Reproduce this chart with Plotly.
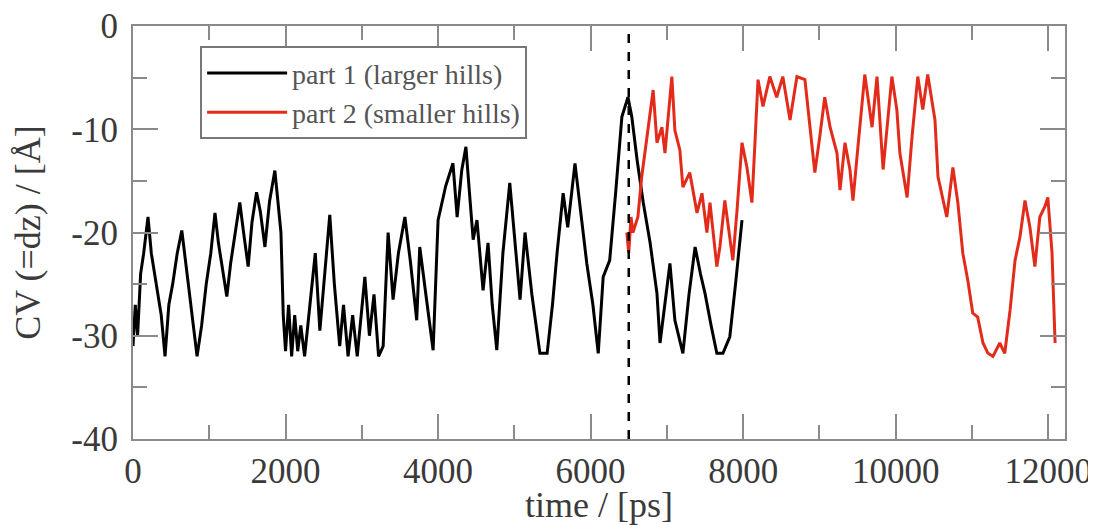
import plotly.graph_objects as go

# part 1 (larger hills): time [ps], CV [Å]
part1_t = [0, 30, 60, 100, 140, 197, 240, 280, 320, 370, 420, 470, 520, 580, 640, 690, 740, 790, 840,
           900, 960, 1020, 1075, 1120, 1180, 1230, 1280, 1340, 1400, 1450, 1510, 1560, 1620, 1670, 1730,
           1790, 1860, 1900, 1940, 1970, 2000, 2040, 2080, 2120, 2160, 2200, 2250, 2320, 2390, 2450, 2510,
           2580, 2640, 2710, 2760, 2820, 2880, 2940, 3040, 3100, 3160, 3220, 3280, 3345, 3410, 3480, 3565,
           3640, 3720, 3760, 3840, 3935, 4000, 4100, 4195, 4250, 4310, 4365, 4410, 4460, 4510, 4590, 4655,
           4710, 4770, 4850, 4940, 5010, 5075, 5140, 5230, 5335, 5430, 5500, 5560, 5640, 5700, 5795, 5870,
           5950, 6030, 6100, 6165, 6250, 6330, 6410, 6490, 6540, 6610, 6690, 6780, 6870, 6910, 6970, 7040,
           7105, 7210, 7290, 7370, 7440, 7500, 7580, 7655, 7735, 7825, 7900, 7985]
part1_cv = [-31, -27, -30, -24, -22, -18.5, -22, -24, -26, -28, -32, -27, -25, -22, -19.8, -23, -26, -29, -32,
            -29, -25, -22, -18.1, -21, -24, -26.2, -23, -20, -17.1, -20, -23.3, -19, -16.1, -18, -21.4,
            -17, -14, -17, -20, -28, -31.5, -27, -32, -28, -31.5, -29, -32, -27, -22, -29.5, -24,
            -18.3, -25, -31, -27, -32, -28, -32, -24.3, -30, -26, -32, -31, -20, -26.5, -22, -18.5,
            -23, -28.5, -21.4, -26, -31.4, -18.8, -15.5, -13.3, -18.5, -14, -11.7, -16, -20.7, -18.8, -25.6, -21,
            -27, -31.4, -22, -15.2, -21, -26.5, -20, -26, -31.7, -31.7, -27, -22, -16.2, -19.5, -13.3, -18,
            -23, -27, -31.7, -24.3, -22.7, -16, -8.8, -6.9, -8.8, -13, -17.1, -21, -25.9, -30.7, -27, -23,
            -28.5, -31.7, -26, -21.4, -24, -25.9, -29, -31.7, -31.7, -30.1, -25, -18.8]

# part 2 (smaller hills)
part2_t = [6475, 6500, 6530, 6555, 6620, 6670, 6740, 6820, 6870, 6935, 6975, 7065, 7105, 7170, 7210, 7300,
           7395, 7460, 7525, 7565, 7655, 7695, 7760, 7825, 7865, 7920, 7985, 8050, 8115, 8155, 8195, 8260,
           8350, 8440, 8520, 8615, 8705, 8810, 8900, 8940, 9005, 9070, 9140, 9230, 9270, 9335, 9400, 9440,
           9505, 9595, 9690, 9755, 9835, 9950, 10015, 10055, 10150, 10215, 10290, 10355, 10420, 10515, 10555,
           10670, 10750, 10815, 10880, 10945, 11010, 11075, 11145, 11210, 11275, 11365, 11430, 11500, 11565,
           11630, 11695, 11760, 11825, 11890, 11955, 11995, 12050, 12090]
part2_cv = [-20, -22, -18.5, -20, -18.5, -14.6, -10.7, -6.2, -11.3, -9.8, -12.3, -4.9, -10.1, -12, -15.6, -14.2,
            -18.1, -16.2, -20, -17.1, -23.3, -21.4, -16.9, -20.4, -22.7, -17.8, -11.3, -13.7, -17.1, -11.3, -5.2, -7.8,
            -4.9, -6.9, -4.9, -9.1, -4.9, -5.2, -11.3, -14.2, -10.7, -6.9, -9.8, -12.3, -15.9, -11.3, -13.9, -16.9,
            -11.7, -4.7, -9.8, -4.9, -13.9, -4.9, -8.1, -12.3, -16.6, -10.7, -4.9, -8.1, -4.7, -9.1, -14.6,
            -18.5, -13.7, -17.1, -22, -24.6, -27.8, -28.2, -30.7, -31.7, -32, -30.7, -31.7, -27.5, -22.7,
            -20.4, -16.9, -19.5, -23.3, -18.5, -17.5, -16.6, -22, -30.7]

switch_time = 6500

x_ticks = [0, 2000, 4000, 6000, 8000, 10000, 12000]
y_ticks = [-40, -30, -20, -10, 0]

serif = "Liberation Serif, Times New Roman, serif"
axis_col = "#8a8a8a"
text_col = "#3a3a3a"

fig = go.Figure()
fig.add_trace(go.Scatter(x=part1_t, y=part1_cv, mode="lines", name="part 1 (larger hills)",
                         line=dict(color="black", width=3)))
fig.add_trace(go.Scatter(x=part2_t, y=part2_cv, mode="lines", name="part 2 (smaller hills)",
                         line=dict(color="#e32b1c", width=3)))

fig.add_shape(type="line", x0=switch_time, x1=switch_time, y0=-40, y1=0, xref="x", yref="y",
              line=dict(color="black", width=2.5, dash="dash"))

fig.update_layout(
    width=1088, height=517,
    margin=dict(l=125, r=31, t=18, b=86, autoexpand=False),
    paper_bgcolor="white", plot_bgcolor="white",
    font=dict(family=serif, color=text_col),
    showlegend=True,
    legend=dict(x=0.072, y=0.951, xanchor="left", yanchor="top",
                bordercolor="#777", borderwidth=2, bgcolor="white",
                font=dict(size=28, family=serif, color="#555"),
                itemwidth=80, tracegroupgap=0),
)
fig.update_xaxes(
    range=[0, 12220], tickvals=x_ticks, ticktext=[str(v) for v in x_ticks],
    showgrid=False, zeroline=False, automargin=False, ticklabeloverflow="allow",
    showline=True, linecolor=axis_col, linewidth=2, mirror="allticks",
    ticks="inside", ticklen=25, tickwidth=2, tickcolor=axis_col,
    minor=dict(dtick=1000, ticks="inside", ticklen=14, tickwidth=2, tickcolor=axis_col, showgrid=False),
    tickfont=dict(size=35, family=serif, color=text_col),
    title=dict(text="time / [ps]", font=dict(size=36, family=serif, color=text_col), standoff=6),
)
fig.update_yaxes(
    range=[-40, 0], tickvals=y_ticks, ticktext=[str(v) for v in y_ticks],
    showgrid=False, zeroline=False, automargin=False, ticklabeloverflow="allow",
    showline=True, linecolor=axis_col, linewidth=2, mirror="allticks",
    ticks="inside", ticklen=25, tickwidth=2, tickcolor=axis_col,
    minor=dict(dtick=5, ticks="inside", ticklen=14, tickwidth=2, tickcolor=axis_col, showgrid=False),
    tickfont=dict(size=35, family=serif, color=text_col),
    ticklabelstandoff=6,
    title=dict(text="CV (=dz) / [Å]", font=dict(size=36, family=serif, color=text_col), standoff=20),
)

fig.write_html("out.html")
